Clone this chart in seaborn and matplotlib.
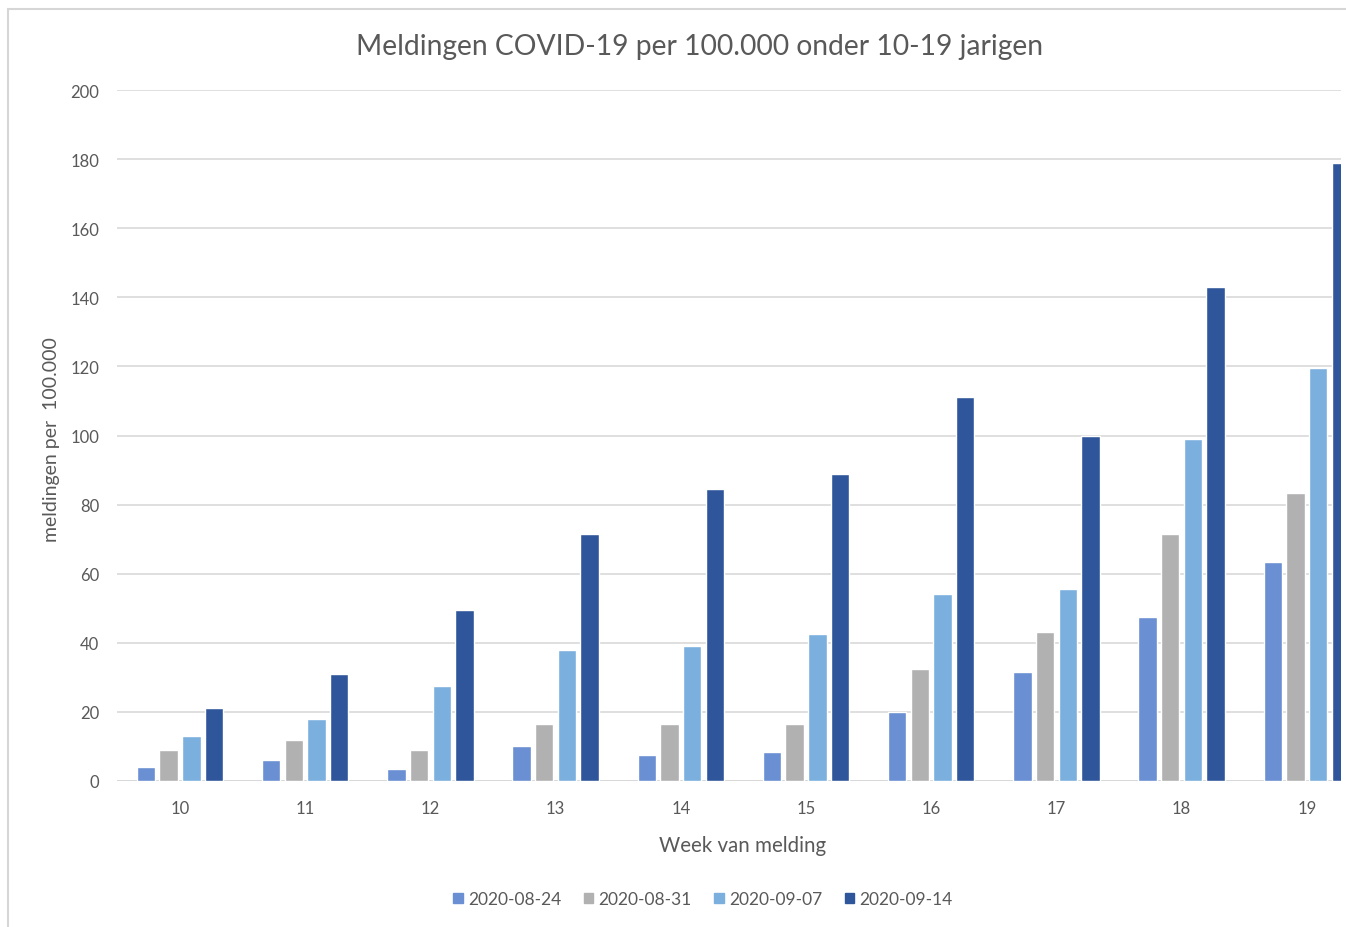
import pandas as pd
import numpy as np
import matplotlib.pyplot as plt
import seaborn as sns
from matplotlib.patches import Rectangle

# === Data ===
weeks = ["10", "11", "12", "13", "14", "15", "16", "17", "18", "19"]
series = ["2020-08-24", "2020-08-31", "2020-09-07", "2020-09-14"]
v_0824 = [4, 6, 3.5, 10, 7.5, 8.5, 20, 31.5, 47.5, 63.5]
v_0831 = [9, 12, 9, 16.5, 16.5, 16.5, 32.5, 43, 71.5, 83.5]
v_0907 = [13, 18, 27.5, 38, 39, 42.5, 54, 55.5, 99, 119.5]
v_0914 = [21, 31, 49.5, 71.5, 84.5, 89, 111, 100, 143, 179]
colors = ["#6a8fd2", "#b1b1b1", "#7bafdd", "#2f569b"]

df = pd.DataFrame({
    "week": weeks * 4,
    "reeks": np.repeat(series, len(weeks)),
    "waarde": v_0824 + v_0831 + v_0907 + v_0914,
})

sns.set_theme(style="white")
plt.rcParams['font.family'] = ['Lato', 'DejaVu Sans']
text_col = "#595959"

fig = plt.figure(figsize=(13.46, 9.28), dpi=100, facecolor="white")
W, H = 1346, 928
ax = fig.add_axes([117.4 / W, 1 - 782 / H, (1341 - 117.4) / W, (782 - 91) / H])

sns.barplot(data=df, x="week", y="waarde", hue="reeks", palette=colors,
            width=0.725, gap=0.19, ax=ax, legend=False, saturation=1)

ax.set_ylim(0, 200)
ax.set_xlim(-0.5, 9.273)
ax.set_yticks(range(0, 201, 20))
ax.yaxis.grid(True, color="#d9d9d9", linewidth=1.2)
ax.set_axisbelow(True)
for s in ax.spines.values():
    s.set_visible(False)
ax.axhline(0, color="#d0d0d0", linewidth=1.3, zorder=0.5)
ax.tick_params(axis="both", length=0, labelsize=12, labelcolor=text_col)
ax.tick_params(axis="x", pad=14)
ax.tick_params(axis="y", pad=13)

ax.set_xlabel("Week van melding", fontsize=14.8, color=text_col)
ax.xaxis.set_label_coords(0.511, -0.078)
ax.set_ylabel("meldingen per  100.000", fontsize=14, color=text_col)
ax.yaxis.set_label_coords(-0.0466, 0.495)

fig.text(700 / W, 1 - 47 / H, "Meldingen COVID-19 per 100.000 onder 10-19 jarigen",
         ha="center", va="center", fontsize=20.3, color=text_col)

# legend
handles = [Rectangle((0, 0), 1, 1, color=c) for c in colors]
fig.legend(handles, series, loc="center", bbox_to_anchor=(703 / W, 1 - 900 / H),
           ncol=4, frameon=False, fontsize=12.5, handlelength=0.55, handleheight=0.55,
           handletextpad=0.3, columnspacing=1.3, labelcolor=text_col)

# outer chart frame (cropped at the right and bottom)
fig.patches.append(Rectangle((8 / W, -0.05), 1.2, 1 - 10 / H + 0.05,
                             transform=fig.transFigure, fill=False,
                             edgecolor="#d6d6d6", linewidth=1.5))

fig.savefig("out.png", dpi=100, facecolor="white")
